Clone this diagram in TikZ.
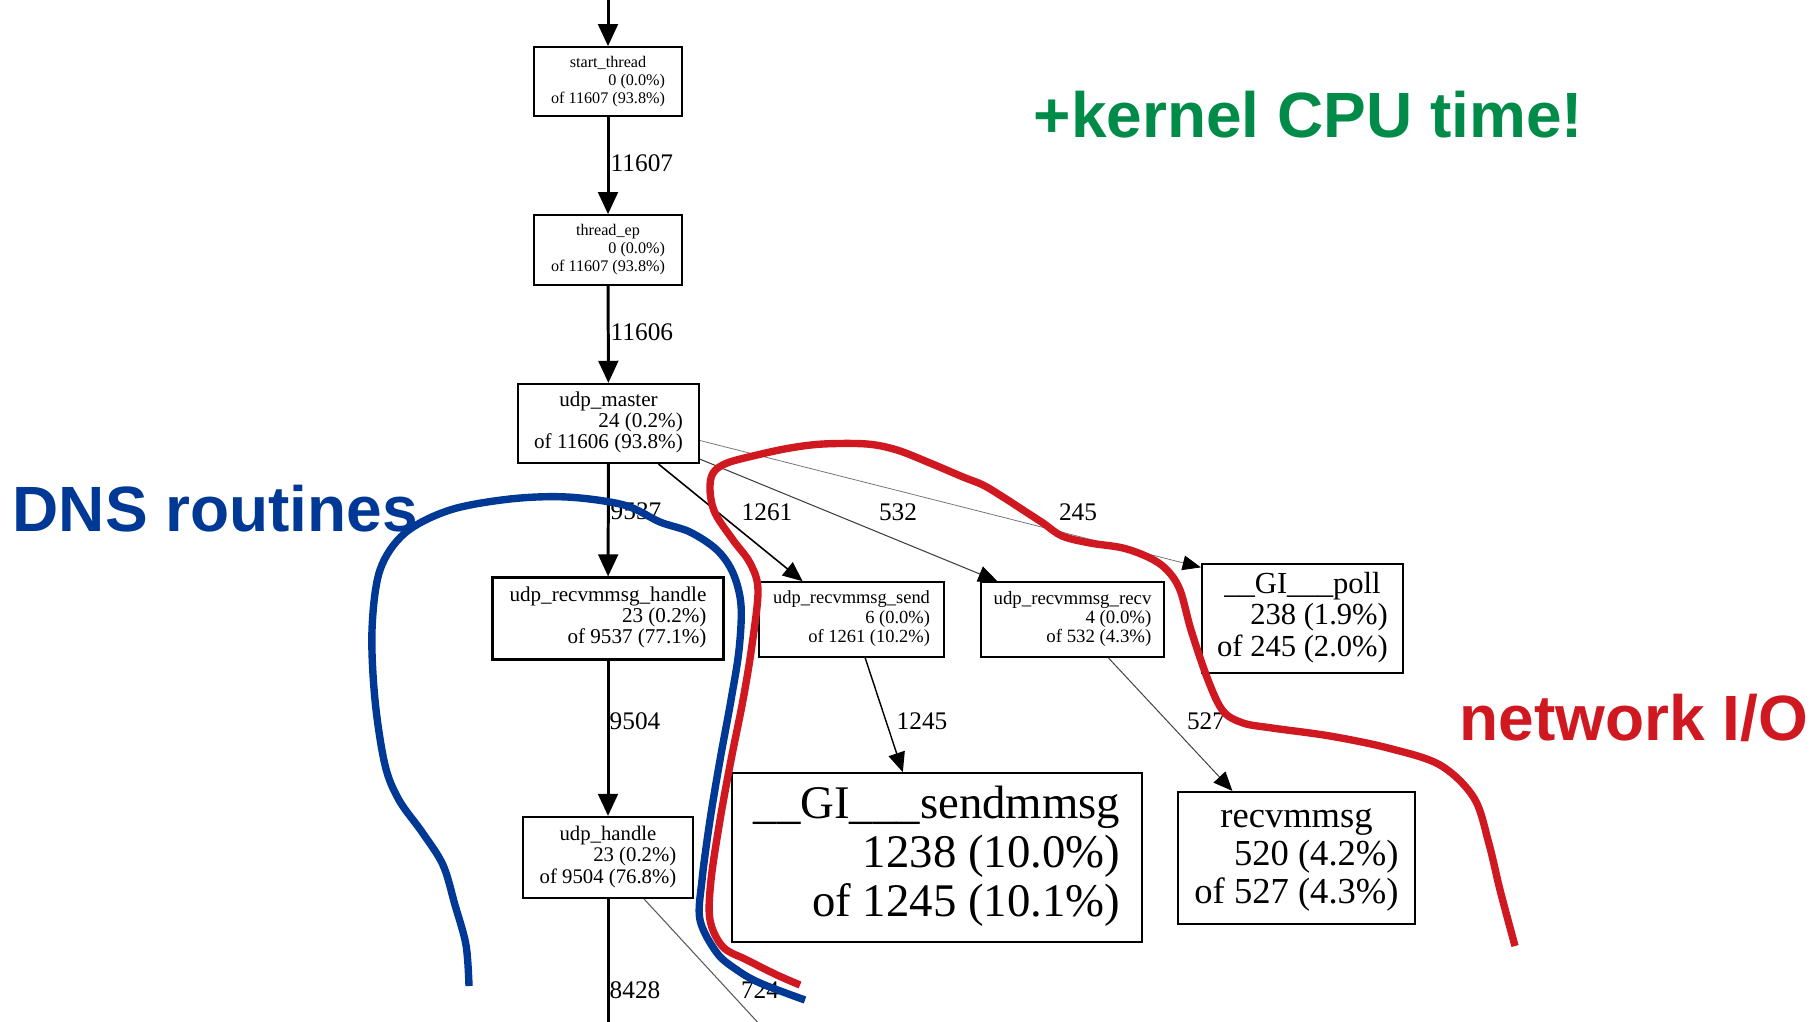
\documentclass[tikz,border=0pt]{standalone}
\usepackage{fontspec}
\setmainfont{Liberation Serif}
\newfontfamily\notesans{Liberation Sans}
\usetikzlibrary{arrows.meta,calc}

\definecolor{dnsblue}{RGB}{0,56,150}
\definecolor{ioread}{RGB}{208,24,32}
\definecolor{kgreen}{RGB}{0,140,72}

% profile box text: centred function name, right-aligned counts
\newcommand\prof[4]{\fontsize{#1}{#2}\selectfont\begin{tabular}{@{}r@{}}\multicolumn{1}{@{}c@{}}{#3}\\#4\end{tabular}}

\tikzset{
  fn/.style={draw, rectangle, inner sep=0pt, line width=0.45pt},
  elabel/.style={inner sep=0pt, font=\fontsize{7.2pt}{8pt}\selectfont},
  mainedge/.style={-{Triangle[length=6.3pt,width=5.6pt]}, line width=0.85pt},
  midedge/.style={-{Triangle[length=5.6pt,width=4.8pt]}, line width=0.45pt},
  thinedge/.style={-{Triangle[length=5.4pt,width=4.6pt,color=black]}, line width=0.3pt, black!75},
  hairedge/.style={-{Triangle[length=5.2pt,width=4.2pt,color=black]}, line width=0.22pt, black!55},
  marker/.style={line width=2.1pt, line join=round},
  note/.style={inner sep=0pt, anchor=base west, font=\notesans\bfseries\fontsize{18.2pt}{20pt}\selectfont},
}

\begin{document}
\begin{tikzpicture}[x=0.01cm, y=-0.01cm]
\useasboundingbox (0,0) rectangle (1813,1021);

% call graph boxes
\node[fn, minimum width=1.48cm, minimum height=0.69cm] (start) at (608,81.5)
  {\prof{4.6pt}{5.1pt}{start\_thread}{0 (0.0\%)\\of 11607 (93.8\%)}};
\node[fn, minimum width=1.48cm, minimum height=0.70cm] (threadep) at (608,250)
  {\prof{4.6pt}{5.1pt}{thread\_ep}{0 (0.0\%)\\of 11607 (93.8\%)}};
\node[fn, line width=0.6pt, minimum width=1.81cm, minimum height=0.79cm] (master) at (608.5,423.5)
  {\prof{6pt}{5.85pt}{udp\_master}{24 (0.2\%)\\of 11606 (93.8\%)}};
\node[fn, line width=0.85pt, minimum width=2.30cm, minimum height=0.81cm] (handle) at (608,618.5)
  {\prof{6pt}{6pt}{udp\_recvmmsg\_handle}{23 (0.2\%)\\of 9537 (77.1\%)}};
\node[fn, minimum width=1.85cm, minimum height=0.75cm] (send) at (851.5,619.5)
  {\prof{5.25pt}{5.55pt}{udp\_recvmmsg\_send}{6 (0.0\%)\\of 1261 (10.2\%)}};
\node[fn, minimum width=1.83cm, minimum height=0.75cm] (recv) at (1072.5,619.5)
  {\prof{5.35pt}{5.4pt}{udp\_recvmmsg\_recv}{4 (0.0\%)\\of 532 (4.3\%)}};
\node[fn, line width=0.6pt, minimum width=2.01cm, minimum height=1.09cm] (poll) at (1302.5,618.5)
  {\prof{8.7pt}{8.9pt}{\_\_GI\_\_\_poll}{238 (1.9\%)\\of 245 (2.0\%)}};
\node[fn, line width=0.6pt, minimum width=1.70cm, minimum height=0.81cm] (uhandle) at (608,857.5)
  {\prof{5.9pt}{6.1pt}{udp\_handle}{23 (0.2\%)\\of 9504 (76.8\%)}};
\node[fn, minimum width=4.10cm, minimum height=1.69cm] (sendmmsg) at (937,857.5)
  {\prof{13.3pt}{14pt}{\_\_GI\_\_\_sendmmsg}{1238 (10.0\%)\\of 1245 (10.1\%)}};
\node[fn, line width=0.6pt, minimum width=2.37cm, minimum height=1.32cm] (recvmmsg) at (1296.5,858)
  {\prof{10.4pt}{10.8pt}{recvmmsg}{520 (4.2\%)\\of 527 (4.3\%)}};

% loose ends of edges leaving the visible part of the graph
\coordinate (entry) at (608,-5);
\coordinate (exitA) at (608,1040);
\coordinate (exitB) at (774,1040);

% edges
\draw[mainedge] (entry) -- (start);
\draw[mainedge] (start) -- (threadep);
\draw[mainedge] (threadep) -- (master);
\draw[mainedge] (master) -- (handle);
\draw[mainedge] (handle) -- (uhandle);
\draw[line width=0.85pt] (uhandle) -- (exitA);
\draw[midedge] ($(master.south west)!0.773!(master.south east)$) -- ($(send.north west)!0.238!(send.north east)$);
\draw[thinedge] ($(master.north east)!0.94!(master.south east)$) -- ($(recv.north west)!0.093!(recv.north east)$);
\draw[hairedge] ($(master.north east)!0.71!(master.south east)$) -- ($(poll.north west)!0.04!(poll.south west)$);
\draw[midedge, line width=0.4pt] ($(send.south west)!0.573!(send.south east)$) -- ($(sendmmsg.north west)!0.417!(sendmmsg.north east)$);
\draw[thinedge, line width=0.28pt] ($(recv.south west)!0.694!(recv.south east)$) -- ($(recvmmsg.north west)!0.232!(recvmmsg.north east)$);
\draw[line width=0.3pt, black!65] ($(uhandle.south west)!0.71!(uhandle.south east)$) -- (exitB);

% edge weights
\node[elabel, anchor=west] (w11607) at (610,163) {11607};
\node[elabel, anchor=west] (w11606) at (610,332) {11606};
\node[elabel, anchor=west] (w9537) at (610,511) {9537};
\node[elabel, anchor=west] (w9504) at (609,721) {9504};
\node[elabel, anchor=west] (w8428) at (609,990) {8428};
\node[elabel] (w1261) at (767,512) {1261};
\node[elabel] (w532) at (898,512) {532};
\node[elabel] (w245) at (1078,512) {245};
\node[elabel] (w1245) at (922,721) {1245};
\node[elabel] (w527) at (1206,721) {527};
\node[elabel] (w724) at (760,990) {724};

% hand-drawn groupings
\draw[marker, dnsblue] plot[smooth, tension=0.55] coordinates {
  (469,986) (466,945) (455,905) (443,865) (422,832) (399,800) (385,765)
  (375,700) (372,630) (380,570) (405,533) (450,510) (510,499) (567,497)
  (624,505) (660,522) (690,532) (717,550) (733,573) (741,605) (739,650)
  (731,700) (720,760) (710,820) (702,880) (700,920) (717,953) (737,970)
  (760,983) (805,1000)};
\draw[marker, ioread] plot[smooth, tension=0.55] coordinates {
  (800,985) (777,975) (747,960) (723,947) (710,920) (711,880) (720,820)
  (731,760) (743,700) (752,645) (758,590) (750,563) (733,540) (715,513)
  (710,490) (713,473) (727,463) (757,455) (790,448) (823,444) (867,444)
  (897,450) (930,463) (963,477) (983,485) (1003,497) (1023,510) (1043,523)
  (1062,536) (1090,543) (1123,548) (1150,558) (1167,570) (1180,590)
  (1191,630) (1208,680) (1223,711) (1243,723) (1272,728) (1330,736)
  (1388,748) (1440,765) (1474,798) (1489,844) (1500,890) (1515,946)};

% annotations
\node[note, text=kgreen] (kernel) at (1033,137) {+kernel CPU time!};
\node[note, text=dnsblue] (dns) at (12,531) {DNS routines};
\node[note, text=ioread] (netio) at (1459,740) {network I/O};
\end{tikzpicture}
\end{document}
